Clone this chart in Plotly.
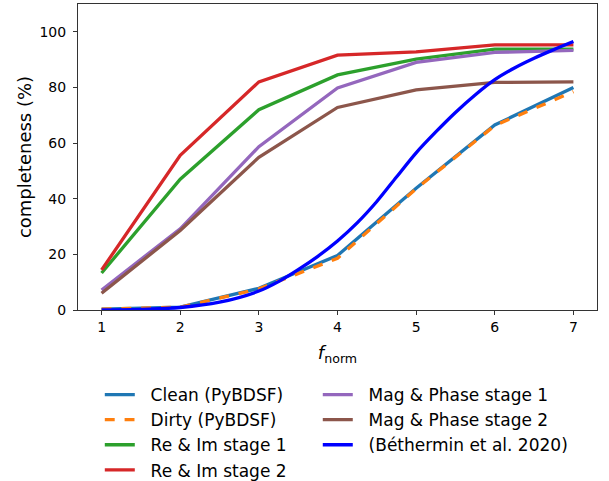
import plotly.graph_objects as go

f_norm = [1, 2, 3, 4, 5, 6, 7]
clean = [0.3, 1.0, 7.8, 19.6, 43.8, 66.5, 80.0]
dirty = [0.3, 1.0, 7.6, 18.6, 43.6, 66.3, 78.5]
re_im_1 = [13.3, 47.0, 72.0, 84.5, 90.2, 93.8, 93.8]
re_im_2 = [14.4, 55.6, 82.0, 91.6, 92.8, 95.3, 95.3]
mag_ph_1 = [7.2, 29.2, 58.7, 79.8, 89.0, 92.6, 93.3]
mag_ph_2 = [6.0, 28.6, 54.9, 72.8, 79.1, 81.8, 82.0]

beth_x = [1, 1.5, 2, 2.5, 3, 3.25, 3.5, 3.75, 4, 4.25, 4.5, 4.75, 5, 5.25, 5.5, 5.75, 6, 6.25, 6.5, 6.75, 7]
beth_y = [0.0, 0.2, 0.9, 2.8, 6.8, 10.2, 14.5, 19.3, 24.8, 31.3, 39.0, 47.8, 56.5, 64.0, 71.0, 77.3, 82.8, 87.0, 90.5, 93.6, 96.5]

y_ticks = [0, 20, 40, 60, 80, 100]

FONT = "DejaVu Sans"
LW = 3.3
PAD = "\u00a0\u00a0"

series = [
    ("Clean (PyBDSF)", f_norm, clean, "#1f77b4", "solid", "legend"),
    ("Dirty (PyBDSF)", f_norm, dirty, "#ff7f0e", "dash", "legend"),
    ("Re &amp; Im stage 1", f_norm, re_im_1, "#2ca02c", "solid", "legend"),
    ("Re &amp; Im stage 2", f_norm, re_im_2, "#d62728", "solid", "legend"),
    ("Mag &amp; Phase stage 1", f_norm, mag_ph_1, "#9467bd", "solid", "legend2"),
    ("Mag &amp; Phase stage 2", f_norm, mag_ph_2, "#8c564b", "solid", "legend2"),
]

fig = go.Figure()
for name, x, y, c, dash, lg in series:
    fig.add_trace(go.Scatter(x=x, y=y, mode="lines", name=PAD + name,
                             line=dict(color=c, width=LW, dash=dash), legend=lg))
fig.add_trace(go.Scatter(x=beth_x, y=beth_y, mode="lines", name=PAD + "(Béthermin et al. 2020)",
                         line=dict(color="#0000ff", width=LW, shape="spline", smoothing=0.8),
                         legend="legend2"))

axis_common = dict(showgrid=False, zeroline=False, showline=True, linecolor="#333333",
                   linewidth=1, mirror=True, ticks="outside", ticklen=4, tickwidth=1,
                   tickcolor="#333333", automargin=False,
                   tickfont=dict(family=FONT, size=14, color="black"))

legend_common = dict(y=-0.219, xanchor="left", yanchor="top", orientation="v",
                     font=dict(family=FONT, size=17), bgcolor="rgba(0,0,0,0)",
                     tracegroupgap=0)

fig.update_layout(
    width=609, height=481,
    margin=dict(l=78, r=12, t=4, b=171, autoexpand=False),
    paper_bgcolor="white", plot_bgcolor="white",
    font=dict(family=FONT, color="black"),
    xaxis=dict(range=[0.7, 7.3], tickvals=f_norm, **axis_common,
               title=dict(text="<i>f</i><sub>norm</sub>", font=dict(family=FONT, size=18), standoff=12)),
    yaxis=dict(range=[0, 110], tickvals=y_ticks, ticklabelstandoff=4, **axis_common,
               title=dict(text="completeness (%)", font=dict(family=FONT, size=18), standoff=3)),
    legend=dict(x=0.042, **legend_common),
    legend2=dict(x=0.462, **legend_common),
    showlegend=True,
)

fig.write_html("out.html", config={"displayModeBar": False},
               post_script="document.body.style.margin='0';document.body.style.padding='0';")
